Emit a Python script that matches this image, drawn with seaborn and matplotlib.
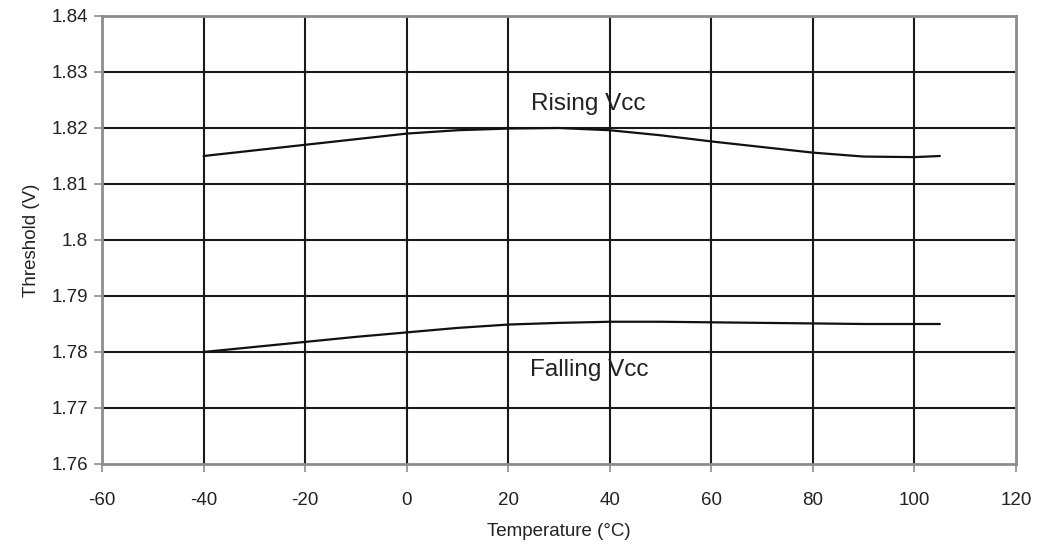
import pandas as pd
import matplotlib.pyplot as plt
import seaborn as sns
from matplotlib.ticker import FormatStrFormatter, FuncFormatter

sns.set_style('white')
plt.rcParams['font.family'] = ['Liberation Sans', 'DejaVu Sans']

# data
temps = [-40, -30, -20, -10, 0, 10, 20, 30, 40, 50, 60, 70, 80, 90, 100, 105]
rising = [1.8150, 1.8160, 1.8170, 1.8180, 1.8190, 1.8196, 1.8199, 1.8200,
          1.8196, 1.8187, 1.8176, 1.8166, 1.8156, 1.8149, 1.8148, 1.8150]
falling = [1.7800, 1.7809, 1.7818, 1.7827, 1.7835, 1.7843, 1.7849, 1.7852,
           1.7854, 1.7854, 1.7853, 1.7852, 1.7851, 1.7850, 1.7850, 1.7850]
x_ticks = [-60, -40, -20, 0, 20, 40, 60, 80, 100, 120]
y_ticks = [1.76, 1.77, 1.78, 1.79, 1.80, 1.81, 1.82, 1.83, 1.84]

df = pd.DataFrame({
    'temp': temps * 2,
    'threshold': rising + falling,
    'series': ['Rising Vcc'] * len(temps) + ['Falling Vcc'] * len(temps),
})

fig, ax = plt.subplots(figsize=(10.37, 5.46), dpi=100)
fig.subplots_adjust(left=0.0984, right=0.9798, top=0.9707, bottom=0.1502)

# black grid
for xv in x_ticks[1:-1]:
    ax.axvline(xv, color='#1a1a1a', lw=1.5, zorder=1)
for yv in y_ticks[1:-1]:
    ax.axhline(yv, color='#1a1a1a', lw=1.5, zorder=1)

sns.lineplot(data=df, x='temp', y='threshold', units='series', estimator=None,
             color='#111111', lw=1.6, ax=ax, zorder=3)

ax.text(24.5, 1.8243, 'Rising Vcc', fontsize=17.5, color='#222222', va='center')
ax.text(24.3, 1.7768, 'Falling Vcc', fontsize=17.5, color='#222222', va='center')

ax.set_xlim(-60, 120)
ax.set_ylim(1.76, 1.84)
ax.set_xticks(x_ticks)
ax.set_yticks(y_ticks)
ax.yaxis.set_major_formatter(FuncFormatter(lambda v, p: '%g' % round(v, 2)))
ax.xaxis.set_major_formatter(FormatStrFormatter('%d'))

for s in ax.spines.values():
    s.set_color('#8c8c8c')
    s.set_linewidth(2)
ax.tick_params(axis='both', direction='out', length=6, width=1.2, color='#8c8c8c',
               bottom=True, left=True, labelsize=13.5, labelcolor='#222222', pad=4)
ax.tick_params(axis='x', pad=14)
ax.set_xlabel('Temperature (°C)', fontsize=13.5, color='#222222', labelpad=10)
ax.set_ylabel('Threshold (V)', fontsize=13.5, color='#222222', labelpad=8)

plt.savefig('out.png', dpi=100)
